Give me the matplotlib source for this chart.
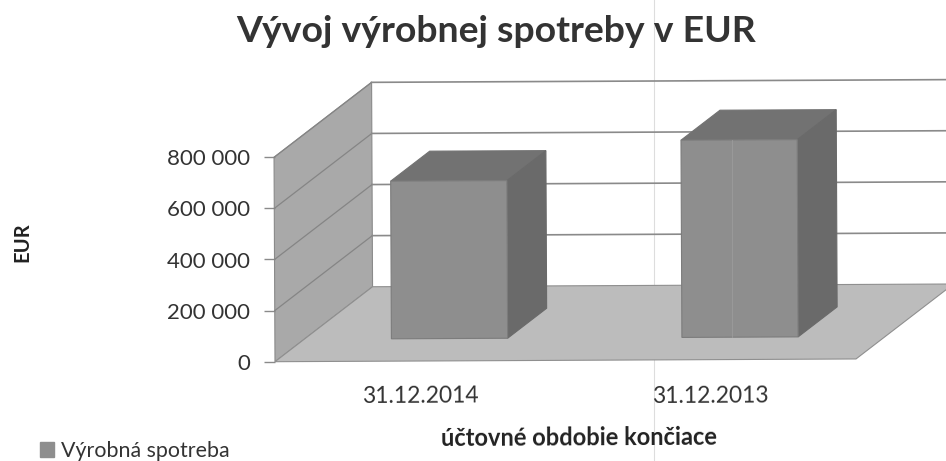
import matplotlib
matplotlib.use('Agg')
import matplotlib.pyplot as plt
from matplotlib.lines import Line2D
from matplotlib.patches import Patch, Polygon
from matplotlib.transforms import Affine2D

categories = ['31.12.2014', '31.12.2013']
values = [617000, 772000]
y_ticks = [0, 200000, 400000, 600000, 800000]
y_tick_labels = ['0', '200 000', '400 000', '600 000', '800 000']
series_name = 'Výrobná spotreba'

W, H = 946, 461
# oblique offset of the full chart depth, in data units
DX = 0.337
DY = 291600
BAR_W = 0.4
TILT = 0.27  # the page was scanned slightly crooked

plt.rcParams['font.family'] = ['Lato', 'DejaVu Sans']

fig = plt.figure(figsize=(W / 100, H / 100), dpi=100)
ax = fig.add_axes([275 / W, (H - 361.7) / H, 581 / W, 204.4 / H])
ax.set_xlim(0, len(categories))
ax.set_ylim(0, y_ticks[-1])
ax.patch.set_visible(False)
ax.set_zorder(1)
for s in ax.spines.values():
    s.set_visible(False)

tilted = ax.transData + Affine2D().rotate_deg_around(275, H - 361.7, TILT)


def pt(x, v, d):
    return (x + d * DX, v + d * DY)


def poly(points, color, edge, z):
    ax.add_patch(Polygon(points, closed=True, facecolor=color, edgecolor=edge,
                         linewidth=0.8, transform=tilted, zorder=z, clip_on=False))


xmax = len(categories)
top = y_ticks[-1]

# left wall and floor
poly([pt(0, 0, 0), pt(0, top, 0), pt(0, top, 1), pt(0, 0, 1)], '#a9a9a9', '#8a8a8a', 1)
poly([pt(0, 0, 0), pt(xmax, 0, 0), pt(xmax, 0, 1), pt(0, 0, 1)], '#bcbcbc', '#8f8f8f', 1)

# gridlines over the wall and along the back
for v in y_ticks[1:]:
    ax.plot(*zip(pt(0, v, 0), pt(0, v, 1)), color='#858585', lw=0.9,
            transform=tilted, zorder=2, clip_on=False)
    ax.plot(*zip(pt(0, v, 1), pt(xmax, v, 1)), color='#8a8a8a', lw=1.2,
            transform=tilted, zorder=2, clip_on=False)

# bars: back faces first, front last
for i, v in enumerate(values):
    x0 = i + 0.5 - BAR_W / 2
    x1 = i + 0.5 + BAR_W / 2
    d0, d1 = 0.3, 0.7
    poly([pt(x0, v, d0), pt(x1, v, d0), pt(x1, v, d1), pt(x0, v, d1)], '#727272', '#727272', 3)
    poly([pt(x1, 0, d0), pt(x1, v, d0), pt(x1, v, d1), pt(x1, 0, d1)], '#6a6a6a', '#6a6a6a', 3)
    poly([pt(x0, 0, d0), pt(x1, 0, d0), pt(x1, v, d0), pt(x0, v, d0)], '#8e8e8e', '#7c7c7c', 4)

ax.set_yticks(y_ticks)
ax.set_yticklabels(y_tick_labels, fontsize=16, color='#333333')
ax.tick_params(axis='y', length=8, width=1, color='#8a8a8a', pad=10)
ax.set_xticks([i + 0.5 for i in range(len(categories))])
ax.set_xticklabels(categories, fontsize=16.5, color='#333333', rotation=TILT)
ax.tick_params(axis='x', length=0, pad=17)

fig.text(496 / W, 1 - 32 / H, 'Vývoj výrobnej spotreby v EUR', ha='center', va='center',
         fontsize=26.9, fontweight='bold', color='#333333')
fig.text(22 / W, 1 - 242 / H, 'EUR', rotation=90, ha='center', va='center',
         fontsize=14.5, fontweight='bold', color='#222222')
fig.text(579 / W, 1 - 438 / H, 'účtovné obdobie končiace', ha='center', va='center',
         fontsize=17, fontweight='bold', color='#222222', rotation=TILT)

fig.legend(handles=[Patch(facecolor='#8e8e8e', edgecolor='#8e8e8e', label=series_name)],
           loc='center left', bbox_to_anchor=(40 / W, 1 - 451 / H), frameon=False,
           fontsize=15.4, labelcolor='#333333', handlelength=0.65, handleheight=0.65,
           handletextpad=0.35, borderpad=0, borderaxespad=0)

# fold lines of the scan
fig.add_artist(Line2D([653.5 / W] * 2, [0, 1], color='#dddddd', lw=0.8, zorder=0))
fig.add_artist(Line2D([732 / W] * 2, [1 - 337 / H, 1 - 140 / H], color='#9c9c9c', lw=0.6, zorder=10))

fig.savefig('out.png', dpi=100, facecolor='white')
